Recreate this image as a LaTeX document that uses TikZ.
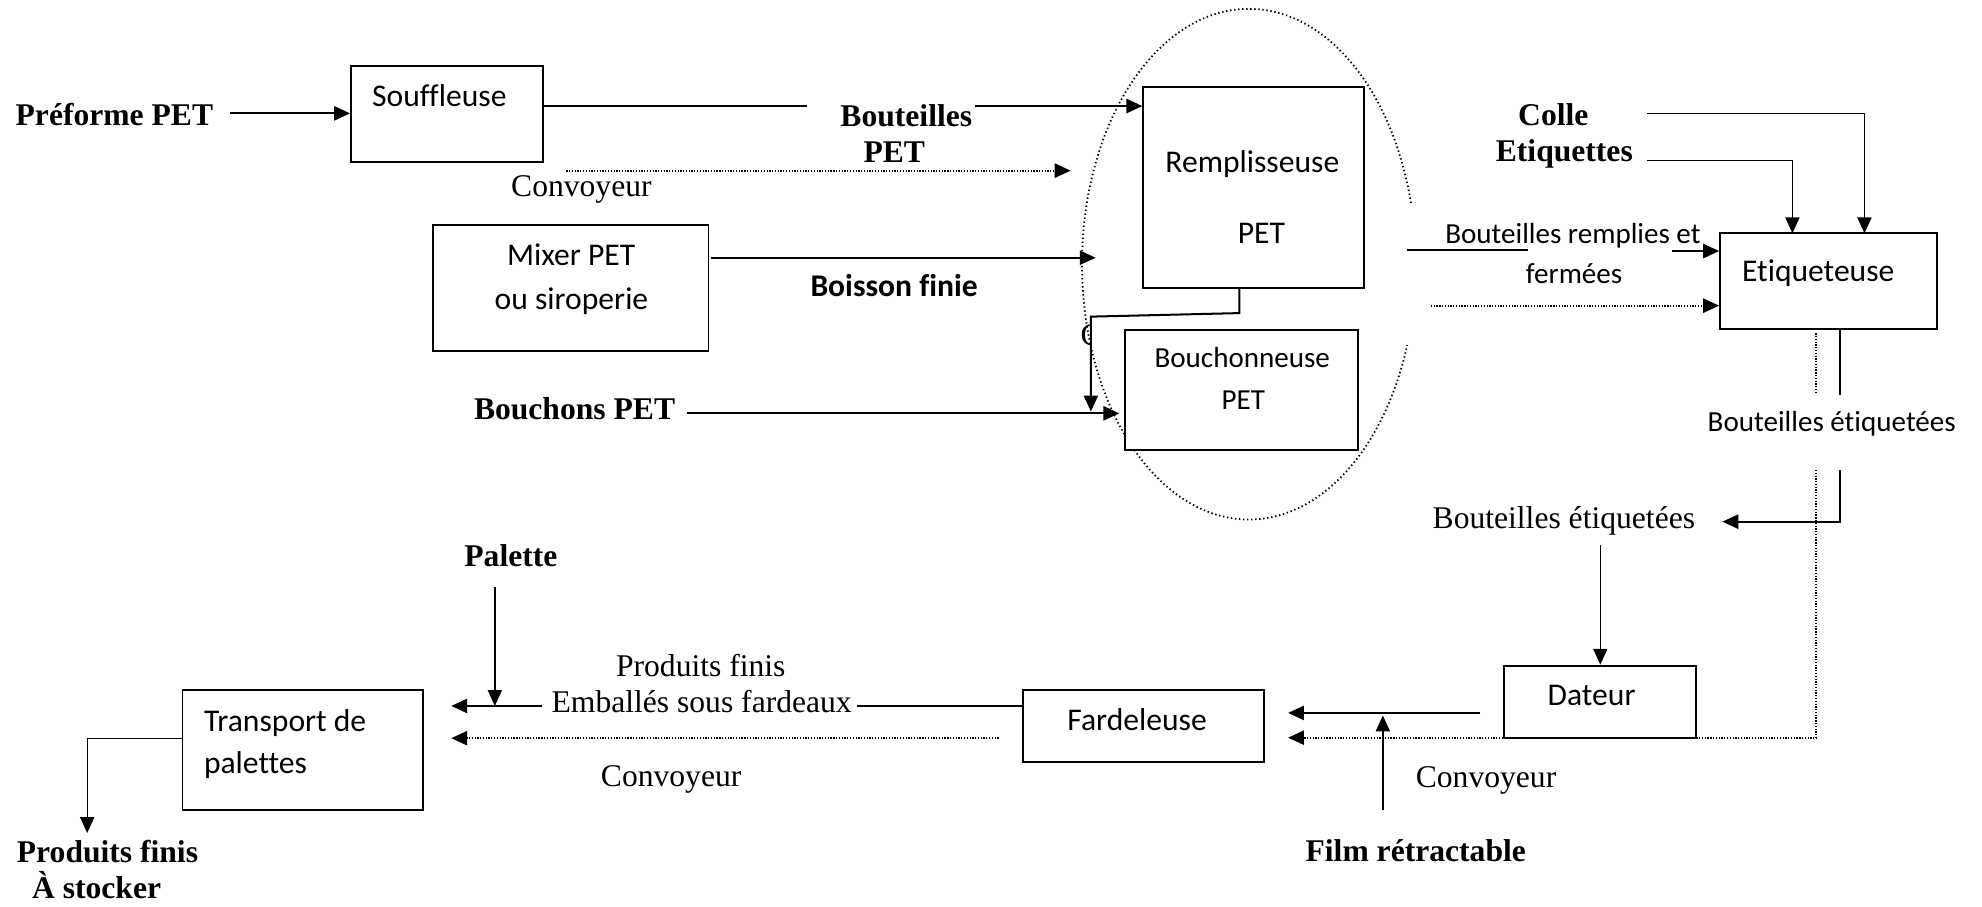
\documentclass[tikz,border=0pt]{standalone}
\usepackage{fontspec}
\setmainfont{Liberation Serif}[Ligatures={NoCommon},RawFeature={-liga;-clig;-calt}]
\newfontfamily\calibri{Carlito}[Ligatures={NoCommon,NoRare,NoDiscretionary},RawFeature={-liga;-clig;-calt}]
\usetikzlibrary{arrows.meta,fit}

\begin{document}
\begin{tikzpicture}[x=0.5pt,y=-0.5pt,
  box/.style={draw, line width=0.75pt, fill=white, inner sep=0pt, rectangle},
  lbl/.style={inner sep=0pt, anchor=base west},
  clbl/.style={inner sep=0pt, anchor=base},
  serif/.style={font=\fontsize{12.5}{15}\selectfont},
  serifb/.style={font=\fontsize{12.5}{15}\selectfont\bfseries},
  sans/.style={font=\calibri\fontsize{12.5}{15}\selectfont},
  sanss/.style={font=\calibri\fontsize{11.5}{14}\selectfont},
  sansb/.style={font=\calibri\fontsize{12.5}{15}\selectfont\bfseries},
  tip/.style={-{Triangle[length=6.3pt,width=5.6pt]}},
  conn/.style={line width=0.8pt},
  arr/.style={conn, tip},
  thinconn/.style={line width=0.55pt},
  thinarr/.style={thinconn, tip},
  dotline/.style={line width=0.75pt, dash pattern=on 0.5pt off 0.6pt},
  dotarr/.style={dotline, tip},
  zone/.style={line width=0.7pt, dash pattern=on 0.55pt off 1.05pt}
]
\useasboundingbox (0,0) rectangle (1568,717);

% dotted grouping around filling and capping, open on the right side
\begin{scope}
  \clip (0,0) -- (1568,0) -- (1568,162) -- (1100,162) -- (1100,273)
        -- (1568,273) -- (1568,717) -- (0,717) -- cycle;
  \draw[zone] (988,209) ellipse [x radius=132, y radius=202];
\end{scope}

% machines
\node[box, fit={(277.7,52) (429.9,128)}] (souf) {};
\node[box, fit={(342.6,178) (560.5,278)}] (mixer) {};
\node[box, fit={(904.5,68.8) (1079.4,227.5)}] (remp) {};
\node[box, fit={(890.3,260.8) (1074.6,355.9)}] (bouch) {};
\node[box, fit={(1360.8,184.6) (1532.6,260.5)}] (etiq) {};
\node[box, fit={(1190,526.6) (1341.8,583.6)}] (dateur) {};
\node[box, fit={(809,546) (1000,602.6)}] (fard) {};
\node[box, fit={(144.4,546) (334.8,641)}] (transp) {};

% texts inside the machines
\node[lbl, sans] (soufT) at (294,84.4) {Souffleuse};
\node[lbl, sans] (rempT1) at (921.6,136.8) {Remplisseuse};
\node[lbl, sans] (rempT2) at (978.8,192.8) {PET};
\node[lbl, sans] (mixT1) at (400.7,210.4) {Mixer PET};
\node[lbl, sans] (mixT2) at (391,245) {ou siroperie};
\node[lbl, sanss] (bouchT1) at (913,290.7) {Bouchonneuse};
\node[lbl, sanss] (bouchT2) at (966,324) {PET};
\node[lbl, sans] (etiqT) at (1377.8,222.8) {Etiqueteuse};
\node[lbl, sans] (dateurT) at (1224,558.5) {Dateur};
\node[lbl, sans] (fardT) at (844,578) {Fardeleuse};
\node[lbl, sans] (transT1) at (161,578.8) {Transport de};
\node[lbl, sans] (transT2) at (161,612) {palettes};

% flow labels
\node[lbl, serifb] (pre) at (12,99.6) {Préforme PET};
\node[clbl, serifb] (bpet1) at (717,99.7) {Bouteilles};
\node[clbl, serifb] (bpet2) at (707.5,128.7) {PET};
\node[lbl, serif] (conv1) at (404,155.6) {Convoyeur};
\node[lbl, sansb] (boisson) at (640.8,234.7) {Boisson finie};
\node[lbl, serifb] (bouchons) at (374.6,332) {Bouchons PET};
\begin{scope}
  \clip (850,250) rectangle (862.3,280);
  \node[lbl, serif] (cpart) at (854.4,273) {C};
\end{scope}
\node[lbl, serifb] (colle) at (1200.7,98.9) {Colle};
\node[lbl, serifb] (etiqs) at (1183,127.9) {Etiquettes};
\node[lbl, sanss] (brf1) at (1143,192.5) {Bouteilles remplies et};
\node[lbl, sanss] (brf2) at (1206.8,224) {fermées};
\node[lbl, sanss] (betiq1) at (1350.6,341.5) {Bouteilles étiquetées};
\node[lbl, serif] (betiq2) at (1133,418) {Bouteilles étiquetées};
\node[lbl, serifb] (palette) at (367,448) {Palette};
\node[lbl, serif] (pf1) at (487,535) {Produits finis};
\node[lbl, serif] (emb) at (436,564) {Emballés sous fardeaux};
\node[lbl, serif] (conv2) at (475,622) {Convoyeur};
\node[lbl, serif] (conv3) at (1119.7,622.8) {Convoyeur};
\node[lbl, serifb] (film) at (1032.5,681.7) {Film rétractable};
\node[lbl, serifb] (pfb1) at (13,682) {Produits finis};
\node[lbl, serifb] (pfb2) at (25,711) {À stocker};

% free ends and bends of the connectors
\coordinate (preOut) at (182,89.7);
\coordinate (bA) at (638.6,83.9);
\coordinate (bB) at (771.4,83.9);
\coordinate (cvA) at (448,135);
\coordinate (cvB) at (847,135);
\coordinate (mixOut) at (562.5,203.9);
\coordinate (mixIn) at (866.8,203.9);
\coordinate (rbA) at (980.5,247.7);
\coordinate (rbB) at (863,250.5);
\coordinate (rbC) at (863,325.5);
\coordinate (bcA) at (543.5,327);
\coordinate (bcB) at (885.5,327);
\coordinate (rfA) at (1113,197.8);
\coordinate (rfB) at (1209,197.8);
\coordinate (rfC) at (1323,198.6);
\coordinate (rfD) at (1132,241.8);
\coordinate (colA) at (1303,89.7);
\coordinate (colB) at (1475,184.6);
\coordinate (etA) at (1303,127);
\coordinate (etB) at (1418,184.6);
\coordinate (esA) at (1456,312.5);
\coordinate (esB) at (1456,371.8);
\coordinate (esC) at (1362.6,412.7);
\coordinate (edA) at (1437,263.7);
\coordinate (edB) at (1437,311);
\coordinate (edC) at (1437,371.8);
\coordinate (edD) at (1019,583.6);
\coordinate (dtA) at (1266,431);
\coordinate (fdA) at (1171,564);
\coordinate (fdB) at (1019,564);
\coordinate (flA) at (1094,641);
\coordinate (flB) at (1094,566);
\coordinate (emE) at (678,558.5);
\coordinate (emA) at (429,558.5);
\coordinate (emB) at (357,558.5);
\coordinate (plA) at (391.5,464);
\coordinate (plB) at (391.5,558.5);
\coordinate (tcA) at (790,584);
\coordinate (tcB) at (357,584);
\coordinate (trA) at (69,584);
\coordinate (trB) at (69,659);

% connectors
\draw[arr] (preOut) -- (souf.west |- preOut);
\draw[conn] (souf.east |- bA) -- (bA);
\draw[arr] (bB) -- (remp.west |- bB);
\draw[dotarr] (cvA) -- (cvB);
\draw[arr] (mixOut) -- (mixIn);
\draw[conn, tip] (remp.south -| rbA) -- (rbA) -- (rbB) -- (rbC);
\draw[arr] (bcA) -- (bcB);
\draw[conn] (rfA) -- (rfB);
\draw[arr] (rfC) -- (etiq.west |- rfC);
\draw[dotarr] (rfD) -- (etiq.west |- rfD);
\draw[thinarr] (colA) -| (colB);
\draw[thinarr] (etA) -| (etB);
\draw[conn] (etiq.south -| esA) -- (esA);
\draw[arr] (esB) |- (esC);
\draw[dotline] (edA) -- (edB);
\draw[dotarr] (edC) |- (edD);
\draw[thinarr] (dtA) -- (dateur.north -| dtA);
\draw[arr] (fdA) -- (fdB);
\draw[thinarr] (flA) -- (flB);
\draw[conn] (fard.west |- emE) -- (emE);
\draw[arr] (emA) -- (emB);
\draw[thinarr] (plA) -- (plB);
\draw[dotarr] (tcA) -- (tcB);
\draw[thinarr] (transp.west |- trA) -- (trA) -- (trB);
\end{tikzpicture}
\end{document}
